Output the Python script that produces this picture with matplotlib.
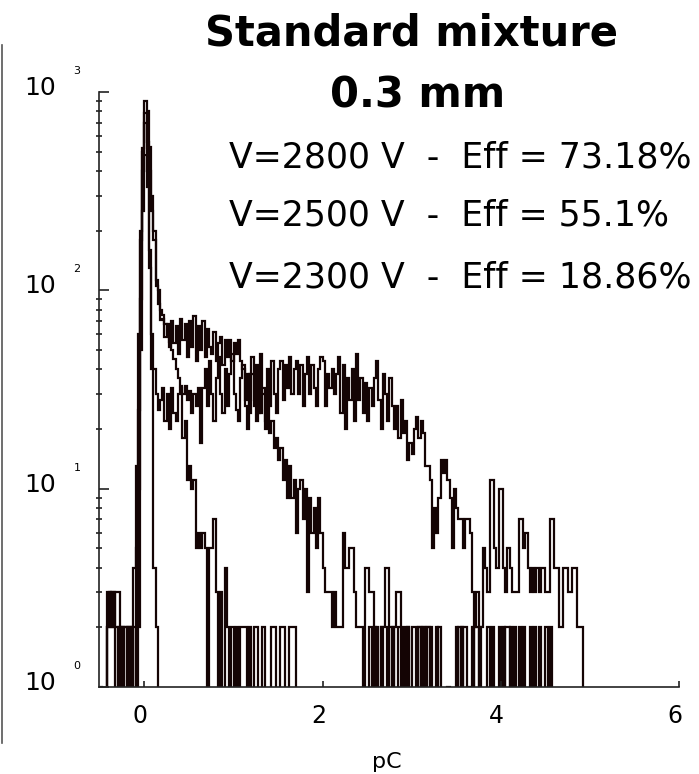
import matplotlib
import numpy as np

matplotlib.use("Agg")
import matplotlib.pyplot as plt
from matplotlib.lines import Line2D
from matplotlib.ticker import LogLocator, NullLocator
from matplotlib.transforms import ScaledTranslation


# histogram bins, pC
bin_width = 0.025
x_start = -0.5
n_bins = 220

# V = 2800 V
counts_2800 = (
    [0, 0, 0, 3, 3, 2, 2, 3, 3, 0, 2, 2, 2, 2, 0, 4, 13]
    + [25, 180, 520, 900, 800, 530, 300, 200, 113, 100, 80]
    + [75, 68, 60, 55, 50, 45, 40, 36, 33, 30, 33, 28, 31, 24, 30, 26, 32]
    + [17, 32, 40, 26, 44, 30, 22, 36, 46, 30, 24, 40, 26, 38, 48, 30, 25, 22, 36, 42]
    + [26, 20, 38, 46, 26, 42, 24, 48, 30, 22, 40, 26, 44, 30, 24, 40, 44, 28, 42, 32,
       46, 30, 40, 44, 30, 42, 26, 38, 46, 30, 42, 32, 26, 40, 46]
    + [44, 26, 38, 32, 40, 30, 38, 46, 24, 42, 20, 36, 28, 40, 22, 48, 28, 36, 24, 34,
       22, 32, 26, 36, 44, 28, 20, 38, 30, 22, 36, 26, 20, 26, 18, 28, 19, 22, 14, 17,
       15, 20, 23, 18, 22, 19, 13, 13, 11, 5, 8, 6, 9, 14, 12, 14]
    + [11, 9, 5, 10, 8, 7, 7, 5, 7, 7, 6, 3, 2, 3, 2, 2, 5, 4, 3, 11,
       11, 5, 4, 10, 10, 4, 3, 5, 4, 3, 3, 3, 7, 7, 5, 6, 4, 3, 4, 3,
       4, 3, 4, 4, 3, 3, 7, 7, 4, 4, 2, 2, 4, 4, 3, 3, 4, 4, 2, 2,
       2, 0, 0, 0]
)

# V = 2500 V
counts_2500 = (
    [0, 0, 0, 2, 2, 3, 3, 2, 0, 0, 2, 0, 2, 2, 1, 2, 5]
    + [10, 90, 400, 780, 560, 400, 250, 180, 105, 85, 71]
    + [72, 58, 68, 52, 70, 54, 66, 48, 72, 56, 68, 46, 70, 52, 74, 44, 66, 50, 70, 46,
       64, 52, 48, 62, 44, 54, 58, 42, 56, 46, 56, 44, 54, 48, 56, 44]
    + [40, 28, 38, 24, 38, 28, 22, 36, 24, 32, 20, 28, 19, 22, 16, 18, 14, 16, 11, 14,
       9, 13, 9, 11, 6, 10, 11, 7, 10, 3, 9, 6, 8, 5, 9, 6]
    + [4, 3, 3, 3, 2, 3, 2, 2, 2, 6, 4, 4, 5, 5, 3, 2, 2, 2, 0, 4,
       4, 3, 3, 2, 2, 0, 2, 2, 4, 4, 2, 0, 2, 3, 3, 2, 0, 2, 2, 0,
       2, 2, 0, 2, 1, 2, 0, 2, 2, 0, 0, 1, 2, 0]
    + [0, 0, 1, 0, 0, 0, 2, 0, 2, 0, 0, 1, 0, 0, 2, 2, 0, 0, 0, 0,
       0, 0, 2, 0, 0, 0, 0, 0, 2, 2, 0, 0, 0, 0, 0, 0, 0, 0, 0, 2,
       0, 0, 0, 0, 0, 0, 0, 0, 0, 0, 0, 0, 0, 0, 0, 0, 0, 0, 0, 0,
       0, 0, 0, 0, 0, 0]
)

# V = 2300 V
counts_2300 = (
    [1, 0, 0, 2, 3, 3, 2, 0, 2, 0, 2, 2, 0, 2, 2, 0, 2]
    + [2, 50, 250, 480, 330, 160, 60, 40, 30, 25, 28]
    + [32, 22, 30, 20, 32, 24, 22, 30, 32, 18, 22, 11, 13, 10, 11, 5, 6, 5, 6]
    + [5, 0, 5, 5, 7, 3, 0, 3, 0, 4, 2, 0, 2, 0, 2, 0, 2, 2, 2, 0,
       2, 0, 2, 2, 0, 0, 2, 0, 0, 0, 2, 2, 0, 0, 2, 2, 0, 0, 2, 2,
       2, 0, 0, 0, 0, 0, 0, 0, 0, 0, 0, 0, 0]
    + [0, 0, 0, 0, 0, 0, 0, 0, 0, 0, 0, 0, 0, 0, 0, 0, 0, 0, 0, 0,
       0, 2, 0, 2, 0, 0, 2, 0, 0, 2, 0, 2, 0, 0, 2, 0, 0, 0, 2, 0,
       0, 0, 0, 2, 0, 2, 0, 2, 0, 0, 0, 2, 0, 0, 0, 0, 0, 0, 0, 0,
       0, 2, 0, 2, 2, 0, 0, 2, 0, 0, 2, 0, 0, 0, 2, 0, 0, 0, 0, 2,
       0, 2, 0, 0, 2, 0, 2, 0, 2, 0, 2, 0, 0, 0, 0, 2, 0, 2, 0, 0,
       2, 0, 2, 0, 0, 0, 0, 0, 0, 0, 0, 0, 0, 0, 0, 0, 0, 0, 0, 0]
)

# narrow pedestal peak with no tail
counts_pedestal = [0] * 17 + [60, 200, 500, 700, 400, 130, 40, 4, 2] + [0] * 194

title_lines = ["Standard mixture", "0.3 mm"]
legend_lines = [
    "V=2800 V  -  Eff = 73.18%",
    "V=2500 V  -  Eff = 55.1%",
    "V=2300 V  -  Eff = 18.86%",
]

LINE_COLOR = "#140404"
AXIS_COLOR = "#222222"

W, H = 699, 774


def fx(px):
    return px / W


def fy(py):
    return 1 - py / H


edges = x_start + bin_width * np.arange(n_bins + 1)

fig = plt.figure(figsize=(W / 100, H / 100), dpi=100)
ax = fig.add_axes([fx(99), 87 / H, 580 / W, 595 / H])

for counts in [counts_2800, counts_2500, counts_2300, counts_pedestal]:
    values = np.asarray(counts, dtype=float)
    assert len(values) == n_bins
    values = np.where(values > 0, values, 0.5)
    ax.stairs(values, edges, baseline=None, color=LINE_COLOR, linewidth=1.6)

ax.set_yscale("log")
ax.set_ylim(1, 1000)
ax.set_xlim(-0.51, 6.0)

ax.spines["top"].set_visible(False)
ax.spines["right"].set_visible(False)
for side in ["left", "bottom"]:
    ax.spines[side].set_color(AXIS_COLOR)
    ax.spines[side].set_linewidth(1.2)

ax.yaxis.set_major_locator(LogLocator(base=10, numticks=10))
ax.yaxis.set_minor_locator(LogLocator(base=10, subs=np.arange(2, 10), numticks=10))
ax.tick_params(axis="y", which="major", direction="in", length=7, width=1.2,
               color=AXIS_COLOR, labelleft=False)
ax.tick_params(axis="y", which="minor", direction="inout", length=5, width=1.2,
               color=AXIS_COLOR)

ax.set_xticks([0, 2, 4, 6])
ax.xaxis.set_minor_locator(NullLocator())
ax.tick_params(axis="x", direction="in", length=4, width=1.2, color=AXIS_COLOR,
               labelsize=17, pad=12)
shift = ScaledTranslation(-4 / 100, 0, fig.dpi_scale_trans)
for label in ax.get_xticklabels():
    label.set_transform(label.get_transform() + shift)

# подписи 10^k как в оригинале
for k in range(4):
    y_px = 687 - k * 198.3
    fig.text(fx(40), fy(y_px - 4), "10", ha="center", va="center", fontsize=18)
    fig.text(fx(77), fy(y_px - 21), str(k), ha="center", va="center", fontsize=8)

fig.text(fx(387), fy(762), "pC", ha="center", va="center", fontsize=16)

fig.text(fx(411.5), fy(45), title_lines[0], ha="center", va="baseline",
         fontsize=30, fontweight="bold")
fig.text(fx(418), fy(108), title_lines[1], ha="center", va="baseline",
         fontsize=30, fontweight="bold")

for line, base_px in zip(legend_lines, [167, 225, 287]):
    fig.text(fx(229), fy(base_px), line, ha="left", va="baseline", fontsize=25)

fig.add_artist(Line2D([fx(1.5), fx(1.5)], [fy(45), fy(743)], color="#555555",
                      linewidth=1.2, transform=fig.transFigure))

fig.savefig("out.png", dpi=100)
plt.close(fig)
